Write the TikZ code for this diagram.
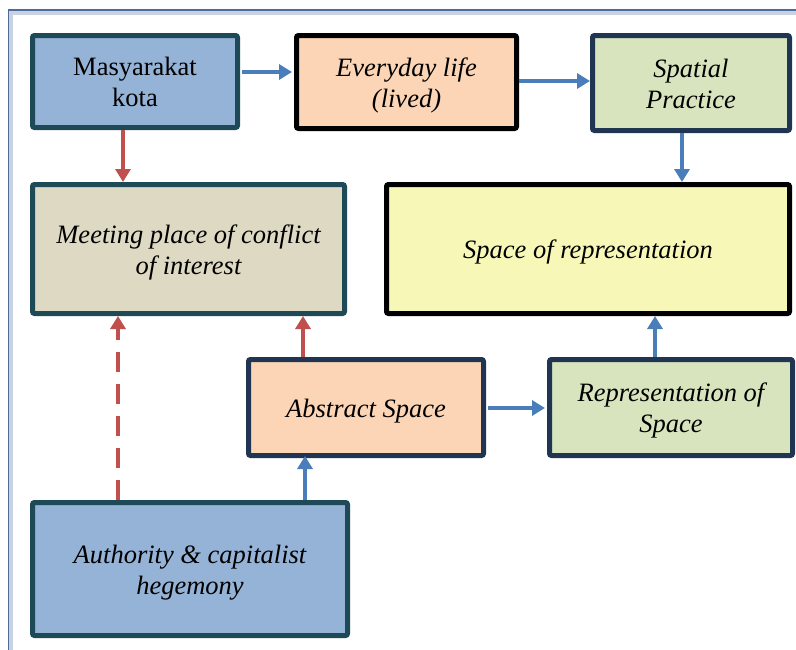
\documentclass[tikz,border=0pt]{standalone}
\usepackage{fontspec}
\setmainfont{Liberation Serif}
\usetikzlibrary{arrows.meta}
\definecolor{bluefill}{HTML}{95B3D7}
\definecolor{peachfill}{HTML}{FBD5B5}
\definecolor{greenfill}{HTML}{D7E4BD}
\definecolor{tanfill}{HTML}{DDD9C3}
\definecolor{yellowfill}{HTML}{F7F8B8}
\definecolor{tealline}{HTML}{1E4A57}
\definecolor{navyline}{HTML}{1F3552}
\definecolor{bluearrow}{HTML}{4A7EBB}
\definecolor{redarrow}{HTML}{C0504D}
\definecolor{framedark}{HTML}{4F6C99}
\definecolor{framelight}{HTML}{C8D2E2}
% box label: centred lines, set slightly below the box centre
\newcommand{\boxlines}[1]{\raisebox{-3.5pt}[\height][\depth]{\begin{tabular}{@{}c@{}}#1\end{tabular}}}
\tikzset{
  box/.style={rectangle, rounded corners=2pt, line width=5pt, inner sep=2pt,
    font=\fontsize{26.5}{31}\selectfont},
  tealbox/.style={box, draw=tealline},
  navybox/.style={box, draw=navyline},
  blackbox/.style={box, draw=black},
  barrow/.style={draw=bluearrow, line width=4pt, -{Triangle[length=13pt,width=15pt]}},
  rarrow/.style={draw=redarrow, line width=4pt, -{Triangle[length=13pt,width=15pt]}},
  rdashed/.style={rarrow, dash pattern=on 20pt off 12pt},
}
\begin{document}
\begin{tikzpicture}[x=1pt, y=-1pt]
\useasboundingbox (0,0) rectangle (796,649);
% page frame
\draw[framelight, line width=4pt] (10.5,660) -- (10.5,12.5) -- (810,12.5);
\draw[framedark, line width=1.6pt] (8.5,660) -- (8.5,10) -- (810,10);

% boxes
\node[tealbox, fill=bluefill, minimum width=205pt, minimum height=92pt]
  (mk) at (135,81.5) {\boxlines{Masyarakat\\kota}};
\node[blackbox, fill=peachfill, minimum width=220pt, minimum height=93pt]
  (ev) at (406.5,82) {\boxlines{\itshape Everyday life\\\itshape (lived)}};
\node[navybox, fill=greenfill, minimum width=197pt, minimum height=95pt]
  (sp) at (691,83) {\boxlines{\itshape Spatial\\\itshape Practice}};
\node[tealbox, fill=tanfill, minimum width=312pt, minimum height=129pt]
  (mp) at (188.5,249) {\boxlines{\itshape Meeting place of conflict\\\itshape of interest}};
\node[blackbox, fill=yellowfill, minimum width=403pt, minimum height=129pt]
  (sr) at (588,249) {\boxlines{\itshape Space of representation}};
\node[navybox, fill=peachfill, minimum width=235pt, minimum height=96pt]
  (as) at (366,407.5) {\boxlines{\itshape Abstract Space}};
\node[navybox, fill=greenfill, minimum width=243pt, minimum height=96pt]
  (rs) at (671,407.5) {\boxlines{\itshape Representation of\\\itshape Space}};
\node[tealbox, fill=bluefill, minimum width=315pt, minimum height=133pt]
  (ah) at (190,569) {\boxlines{\itshape Authority \& capitalist\\\itshape hegemony}};

% connectors
\draw[barrow] ([xshift=2pt]mk.east |- 0,72) -- ([xshift=-2pt]ev.west |- 0,72);
\draw[barrow] (ev.east |- 0,81) -- (sp.west |- 0,81);
\draw[barrow] (sp.south -| 682,0) -- (sr.north -| 682,0);
\draw[rarrow] (mk.south -| 123,0) -- (mp.north -| 123,0);
\draw[rdashed] (ah.north -| 118,0) -- (mp.south -| 118,0);
\draw[barrow] (ah.north -| 305,0) -- ([yshift=2pt]as.south -| 305,0);
\draw[rarrow] (as.north -| 303,0) -- (mp.south -| 303,0);
\draw[barrow] ([xshift=2pt]as.east |- 0,408) -- ([xshift=-2pt]rs.west |- 0,408);
\draw[barrow] (rs.north -| 655,0) -- (sr.south -| 655,0);
\end{tikzpicture}
\end{document}
